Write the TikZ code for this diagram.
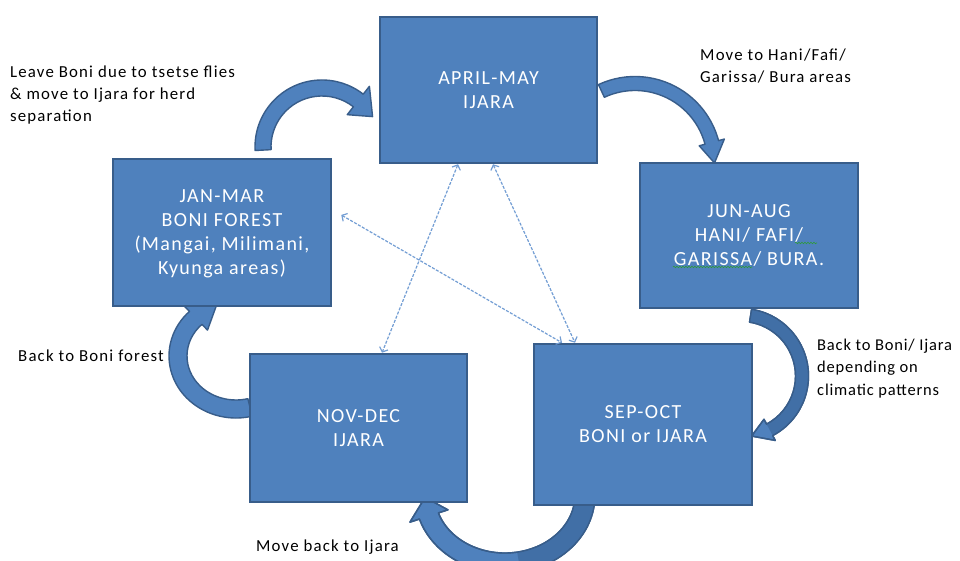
\documentclass[tikz,border=0pt]{standalone}
\usepackage{fontspec}
\setmainfont{Carlito}
\newfontfamily\spfont[LetterSpace=7]{Carlito}
\newfontfamily\narrowfont[LetterSpace=5]{Carlito}
\usetikzlibrary{arrows.meta,decorations.pathmorphing}
\definecolor{boxblue}{HTML}{4F81BD}
\definecolor{boxedge}{HTML}{385D8A}
\definecolor{darkband}{HTML}{416FA6}
\definecolor{dashblue}{HTML}{739ED4}
\definecolor{squig}{HTML}{2E9A3A}
% curved block arrow: style, centre, start angle, head-base angle, tip angle, x radius, y radius, shaft half width, head half width
\newcommand\bentarrow[9]{%
  \path[#1] ([shift={#2}]#3:{#6+#8} and {#7+#8})
    arc[start angle=#3, end angle=#4, x radius={#6+#8}, y radius={#7+#8}]
    -- ([shift={#2}]#4:{#6+#9} and {#7+#9})
    -- ([shift={#2}]#5:{#6} and {#7})
    -- ([shift={#2}]#4:{#6-#9} and {#7-#9})
    -- ([shift={#2}]#4:{#6-#8} and {#7-#8})
    arc[start angle=#4, end angle=#3, x radius={#6-#8}, y radius={#7-#8}]
    -- cycle;}
% shaft band only: style, centre, a1, a2, rx, ry, half width
\newcommand\bandfill[7]{%
  \path[#1] ([shift={#2}]#3:{#5+#7} and {#6+#7})
    arc[start angle=#3, end angle=#4, x radius={#5+#7}, y radius={#6+#7}]
    -- ([shift={#2}]#4:{#5-#7} and {#6-#7})
    arc[start angle=#4, end angle=#3, x radius={#5-#7}, y radius={#6-#7}]
    -- cycle;}
\tikzset{
  season/.style={draw=boxedge, fill=boxblue, line width=2.5pt, text=white, align=center,
    font=\spfont\fontsize{20}{24}\selectfont, inner sep=0pt},
  bentbody/.style={draw=boxedge, fill=boxblue, line width=1.4pt, line join=round},
  bentline/.style={draw=boxedge, line width=1.4pt, line join=round},
  link/.style={draw=dashblue, line width=1.2pt, dash pattern=on 3pt off 1.5pt,
    {Straight Barb[length=4pt,width=9pt]}-{Straight Barb[length=4pt,width=9pt]}},
  note/.style={font=\spfont\fontsize{16.8}{22}\selectfont, align=left, inner sep=0pt, text=black},
  squiggle/.style={draw=squig, line width=0.6pt, decorate,
    decoration={snake, amplitude=0.8pt, segment length=3pt}}
}
\begin{document}
\begin{tikzpicture}[x=1pt,y=1pt]
\fill[white] (0,0) rectangle (960,561);
\useasboundingbox (0,0) rectangle (960,561);

% curved block arrows
\bentarrow{bentbody}{(322,414)}{183}{52}{31}{59}{59}{8}{18}
\bentarrow{bentbody}{(635,398)}{115}{15}{0}{79.5}{79.5}{7}{13}
\bentarrow{bentbody}{(741,185)}{81}{-62}{-80}{61}{61}{6.5}{12}
\bandfill{fill=darkband}{(741,185)}{81}{-62}{61}{61}{5.8}
\bentarrow{bentline}{(741,185)}{81}{-62}{-80}{61}{61}{6.5}{12}
\bentarrow{bentbody}{(505,66)}{-7}{-162}{-178}{80}{68}{10}{20}
\bandfill{fill=darkband}{(505,66)}{-7}{-80}{80}{68}{9.3}
\bentarrow{bentline}{(505,66)}{-7}{-162}{-178}{80}{68}{10}{20}
\bentarrow{bentbody}{(236,205)}{-76}{-226}{-250}{58}{53}{9}{17}

% season boxes
\node[season, minimum width=217pt, minimum height=146pt] (AM) at (488.5,471) {APRIL-MAY\\IJARA};
\node[season, minimum width=218pt, minimum height=145pt] (JA) at (749,325.5) {JUN-AUG\\HANI/ FAFI/\\GARISSA/ BURA.};
\node[season, minimum width=218pt, minimum height=147pt, text depth=0pt] (JM) at (222,328.5) {JAN-MAR\\BONI FOREST\\(Mangai, Milimani,\\Kyunga areas)};
\node[season, minimum width=217pt, minimum height=148pt] (ND) at (358.5,133) {NOV-DEC\\IJARA};
\node[season, minimum width=218pt, minimum height=161pt] (SO) at (643,136.5) {SEP-OCT\\BONI or IJARA};

% spell-check squiggles
\draw[squiggle] (795,318) -- (817,318);
\draw[squiggle] (673,294) -- (752,294);

% dashed links
\draw[link] ([xshift=-30.5pt]AM.south) -- ([xshift=23.5pt]ND.north);
\draw[link] ([xshift=4.5pt]AM.south) -- ([xshift=-68pt]SO.north);
\draw[link] ([shift={(9pt,17.5pt)}]JM.east) -- ([xshift=-81pt]SO.north);

% notes
\node[note, anchor=north west] (L1) at (10,495) {Leave Boni due to tsetse flies\\\& move to Ijara for herd\\separation};
\node[note, anchor=north west] (L2) at (700,512) {Move to Hani/Fafi/\\Garissa/ Bura areas};
\node[note, anchor=north west, font=\narrowfont\fontsize{16.5}{22.5}\selectfont] (L3) at (817,222.5) {Back to Boni/ Ijara\\depending on\\climatic patterns};
\node[note, anchor=base west] (L4) at (18,199) {Back to Boni forest};
\node[note, anchor=base west] (L5) at (256,9) {Move back to Ijara};
\end{tikzpicture}
\end{document}
